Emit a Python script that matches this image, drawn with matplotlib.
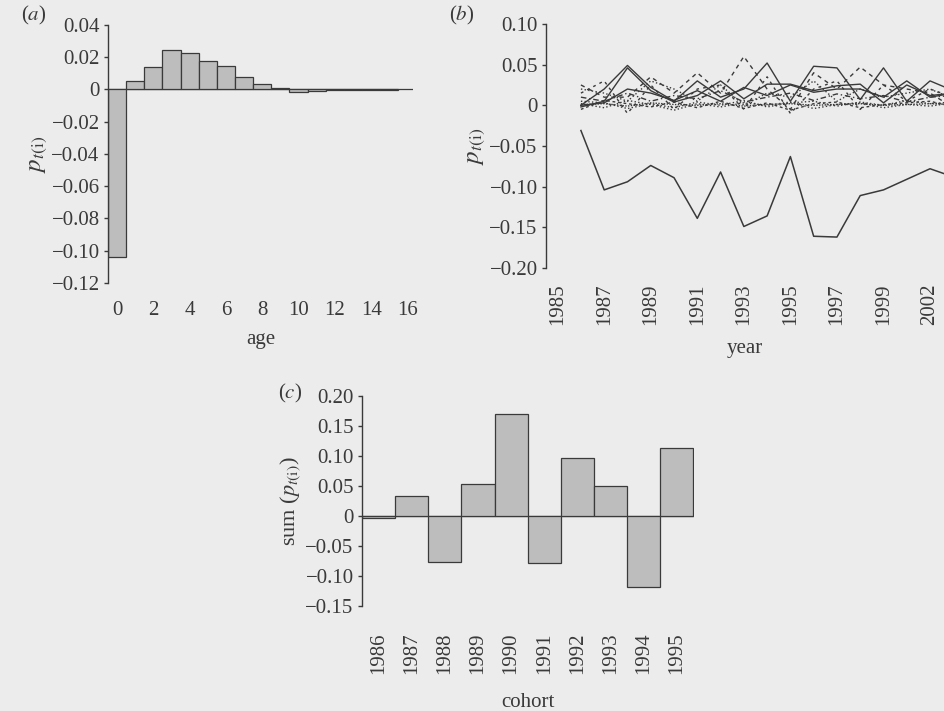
import numpy as np
import matplotlib
matplotlib.use("Agg")
import matplotlib.pyplot as plt

plt.rcParams['font.family'] = ['Liberation Serif', 'DejaVu Serif']
plt.rcParams['mathtext.fontset'] = 'stix'
plt.rcParams['font.size'] = 15

INK = '#3a3a3a'
BG = '#ececec'
BAR = '#bdbdbd'

# (a) mean p by age
ages = list(range(16))
p_age = [-0.104, 0.0054, 0.0141, 0.0244, 0.0224, 0.0174, 0.0143, 0.0075,
         0.0035, 0.0012, -0.0017, -0.0008, -0.0006, -0.0005, -0.0005, -0.0004]

# (b) p by year, one series per age
years = list(range(1986, 2003))
p_age0 = [-0.031, -0.104, -0.094, -0.074, -0.089, -0.139, -0.082, -0.149, -0.136,
          -0.063, -0.161, -0.162, -0.111, -0.104, -0.091, -0.078, -0.088]
p_age1 = [0.000, 0.020, 0.049, 0.022, 0.005, 0.030, 0.010, 0.020, 0.052,
          0.005, 0.048, 0.046, 0.007, 0.046, 0.005, 0.030, 0.018]
p_age2 = [-0.002, 0.005, 0.046, 0.018, 0.004, 0.012, 0.030, 0.008, 0.026,
          0.026, 0.018, 0.024, 0.026, 0.003, 0.025, 0.012, 0.015]
p_age3 = [0.000, 0.003, 0.020, 0.015, 0.006, 0.018, 0.005, 0.022, 0.012,
          0.025, 0.016, 0.020, 0.020, 0.010, 0.030, 0.010, 0.015]
p_age4 = [0.025, 0.010, 0.010, 0.035, 0.015, 0.040, 0.015, 0.060, 0.020,
          -0.005, 0.040, 0.020, 0.047, 0.025, 0.020, 0.015, -0.003]
p_age5 = [0.015, 0.030, -0.010, 0.025, -0.005, 0.020, 0.025, -0.005, 0.035,
          -0.010, 0.020, 0.030, -0.005, 0.025, 0.005, 0.020, 0.010]
p_age6 = [0.020, 0.015, 0.005, 0.030, 0.020, 0.005, 0.025, 0.000, 0.015,
          0.010, 0.030, 0.005, 0.020, 0.010, 0.015, 0.020, 0.008]
p_age7 = [0.010, 0.005, 0.015, 0.005, 0.012, 0.008, 0.018, 0.004, 0.010,
          0.015, 0.006, 0.014, 0.008, 0.012, 0.004, 0.010, 0.012]
p_age8 = [0.005, 0.003, -0.004, 0.002, -0.003, 0.004, 0.000, 0.006, -0.002,
          0.003, 0.005, -0.001, 0.004, 0.000, 0.006, 0.002, 0.004]
p_age9 = [-0.005, 0.006, 0.002, -0.002, 0.004, -0.003, 0.005, -0.004, 0.003,
          -0.006, 0.002, 0.004, -0.003, 0.001, 0.003, 0.005, -0.002]
p_age10 = [0.002, -0.003, 0.006, 0.001, -0.006, 0.002, -0.002, 0.003, 0.000,
           0.004, -0.004, 0.001, 0.003, -0.003, 0.001, -0.001, 0.003]
p_age11 = [0.001, 0.002, -0.001, 0.003, 0.001, 0.000, 0.002, -0.001, 0.001,
           0.002, 0.000, 0.001, 0.002, 0.000, 0.001, 0.002, 0.001]

# (c) sum of p by cohort
cohorts = ['1986', '1987', '1988', '1989', '1990', '1991', '1992', '1993', '1994', '1995']
p_sum = [-0.0044, 0.0327, -0.076, 0.053, 0.170, -0.0777, 0.0966, 0.049, -0.118, 0.113]

fig = plt.figure(figsize=(9.44, 7.11), dpi=100, facecolor=BG)


def style(ax):
    ax.set_facecolor(BG)
    for s in ['top', 'right', 'bottom']:
        ax.spines[s].set_visible(False)
    ax.spines['left'].set_color(INK)
    ax.spines['left'].set_linewidth(1.0)
    ax.tick_params(axis='y', direction='out', length=3, width=1.0, color=INK, pad=3, labelcolor=INK)
    ax.tick_params(axis='x', length=0, labelcolor=INK)


def fmt(v):
    if abs(v) < 1e-9:
        return '0'
    return ('%.2f' % v).replace('-', '\u2212')


# panel (a)
ax1 = fig.add_axes([0.1144, 0.602, 0.323, 0.3629])
style(ax1)
ax1.bar(ages, p_age, width=1.0, color=BAR, edgecolor=INK, linewidth=0.9)
ax1.axhline(0, color=INK, lw=0.9, zorder=0)
ax1.set_xlim(-0.5, 16.3)
ax1.set_ylim(-0.12, 0.04)
yt = np.arange(-0.12, 0.041, 0.02)
ax1.set_yticks(yt)
ax1.set_yticklabels([fmt(v) for v in yt])
ax1.set_xticks(range(0, 17, 2))
ax1.tick_params(axis='x', pad=13)
ax1.set_xlabel('age', labelpad=7, color=INK)
ax1.set_ylabel(r'$p_{t(\mathrm{i})}$', color=INK, labelpad=2, fontsize=18)
fig.text(0.022, 0.978, r'($a$)', ha='left', va='center', color=INK)

# panel (b)
ax2 = fig.add_axes([0.5784, 0.6231, 0.4216, 0.3432])
style(ax2)
ax2.plot(years, p_age0, color=INK, lw=1.1, ls='-')
series_b = [(p_age1, '-'), (p_age2, '-'), (p_age3, '-'),
            (p_age4, (0, (3, 3))), (p_age5, (0, (2, 3))), (p_age6, ':'),
            (p_age7, (0, (4, 2, 1, 2))), (p_age8, ':'), (p_age9, (0, (2, 2))),
            (p_age10, ':'), (p_age11, (0, (1, 1)))]
for vals, ls in series_b:
    ax2.plot(years, vals, color=INK, lw=1.0, ls=ls)
ax2.set_xlim(1984.5, 2001.6)
ax2.set_ylim(-0.20, 0.10)
yt2 = np.arange(-0.20, 0.101, 0.05)
ax2.set_yticks(yt2)
ax2.set_yticklabels([fmt(v) for v in yt2])
ax2.set_xticks([1985, 1987, 1989, 1991, 1993, 1995, 1997, 1999, 2001])
ax2.set_xticklabels(['1985', '1987', '1989', '1991', '1993', '1995', '1997', '1999', '2002'],
                    rotation=90)
ax2.tick_params(axis='x', pad=11)
ax2.set_xlabel('year', labelpad=10, color=INK)
ax2.set_ylabel(r'$p_{t(\mathrm{i})}$', color=INK, labelpad=2, fontsize=18)
fig.text(0.489, 0.978, r'($b$)', ha='center', va='center', color=INK)

# panel (c)
ax3 = fig.add_axes([0.3835, 0.1477, 0.352, 0.2958])
style(ax3)
ax3.bar(range(len(cohorts)), p_sum, width=1.0, color=BAR, edgecolor=INK, linewidth=0.9)
ax3.axhline(0, color=INK, lw=0.9, zorder=0)
ax3.set_xlim(-0.5, 9.53)
ax3.set_ylim(-0.15, 0.20)
yt3 = np.arange(-0.15, 0.201, 0.05)
ax3.set_yticks(yt3)
ax3.set_yticklabels([fmt(v) for v in yt3])
ax3.set_xticks(range(len(cohorts)))
ax3.set_xticklabels(cohorts, rotation=90)
ax3.tick_params(axis='x', pad=19)
ax3.set_xlabel('cohort', labelpad=14, color=INK)
ax3.set_ylabel(r'sum ($p_{t(\mathrm{i})}$)', color=INK, labelpad=2, fontsize=16)
fig.text(0.307, 0.447, r'($c$)', ha='center', va='center', color=INK)

fig.savefig('out.png', dpi=100, facecolor=BG)
